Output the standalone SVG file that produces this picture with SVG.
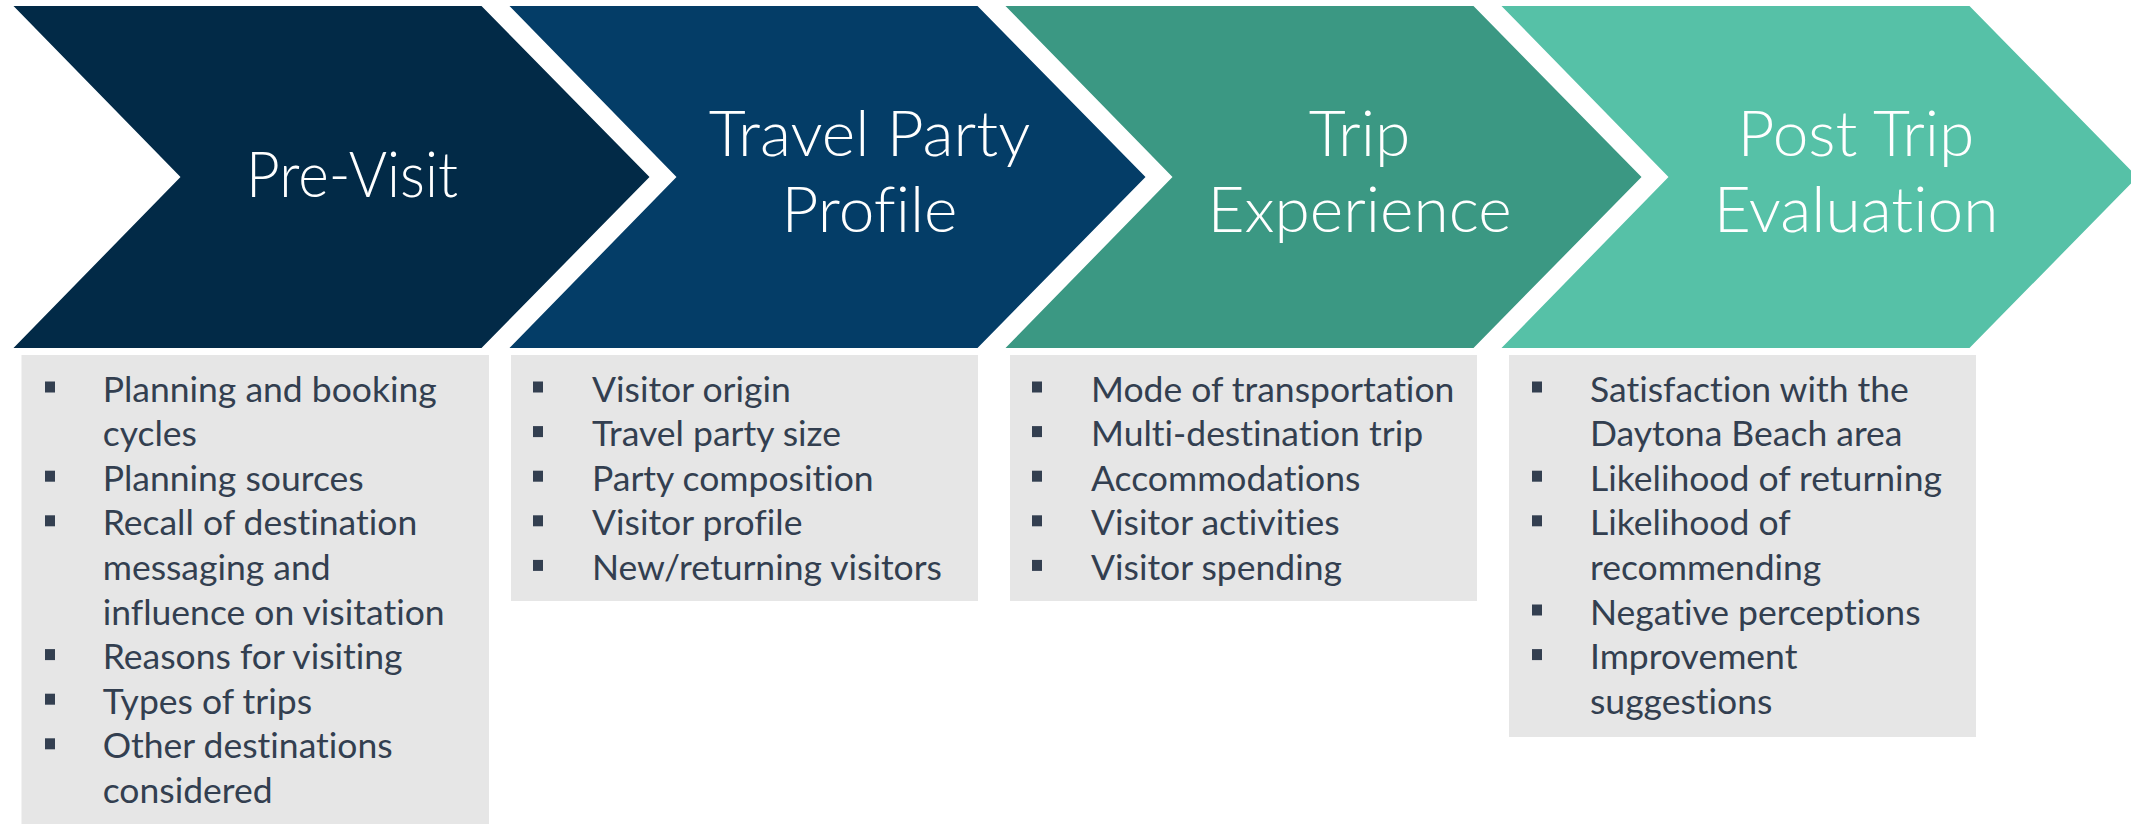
<svg xmlns="http://www.w3.org/2000/svg" width="2131" height="824" viewBox="0 0 2131 824">
<style>
.title{font-family:Lato,"Open Sans","Liberation Sans",sans-serif;font-weight:300;font-size:64px;fill:#ffffff;text-anchor:middle;font-variant-ligatures:none}
.item{font-family:Lato,"Open Sans","Liberation Sans",sans-serif;font-size:35.5px;fill:#333f50;font-variant-ligatures:none}
.box{fill:#e6e6e6}
.bul{fill:#333f50}
</style>
<defs>
<polygon id="chev" points="0,6 468,6 636,177 468,348 0,348 167,177"/>
<rect id="b" width="10" height="11"/>
</defs>
<rect width="2131" height="824" fill="#ffffff"/>

<g id="pre-visit">
<use href="#chev" x="13.5" fill="#022a47"/>
<text class="title" x="352" y="197" textLength="212" lengthAdjust="spacingAndGlyphs">Pre-Visit</text>
<rect class="box" x="21.5" y="355" width="467.5" height="469"/>
<g class="bul">
<use href="#b" x="45" y="381.5"/>
<use href="#b" x="45" y="470.7"/>
<use href="#b" x="45" y="515.3"/>
<use href="#b" x="45" y="649.1"/>
<use href="#b" x="45" y="693.7"/>
<use href="#b" x="45" y="738.3"/>
</g>
<text class="item" x="102.7" y="401.5">Planning and booking</text>
<text class="item" x="102.7" y="446.1">cycles</text>
<text class="item" x="102.7" y="490.7">Planning sources</text>
<text class="item" x="102.7" y="535.3">Recall of destination</text>
<text class="item" x="102.7" y="579.9">messaging and</text>
<text class="item" x="102.7" y="624.5">influence on visitation</text>
<text class="item" x="102.7" y="669.1">Reasons for visiting</text>
<text class="item" x="102.7" y="713.7">Types of trips</text>
<text class="item" x="102.7" y="758.3">Other destinations</text>
<text class="item" x="102.7" y="802.9">considered</text>
</g>

<g id="travel-party-profile">
<use href="#chev" x="509.5" fill="#043d67"/>
<text class="title" x="869.5" y="156">Travel Party</text>
<text class="title" x="869.5" y="232">Profile</text>
<rect class="box" x="511" y="355" width="467" height="246"/>
<g class="bul">
<use href="#b" x="533" y="381.5"/>
<use href="#b" x="533" y="426.1"/>
<use href="#b" x="533" y="470.7"/>
<use href="#b" x="533" y="515.3"/>
<use href="#b" x="533" y="559.9"/>
</g>
<text class="item" x="592" y="401.5">Visitor origin</text>
<text class="item" x="592" y="446.1">Travel party size</text>
<text class="item" x="592" y="490.7">Party composition</text>
<text class="item" x="592" y="535.3">Visitor profile</text>
<text class="item" x="592" y="579.9">New/returning visitors</text>
</g>

<g id="trip-experience">
<use href="#chev" x="1005.5" fill="#3b9883"/>
<text class="title" x="1359.5" y="156">Trip</text>
<text class="title" x="1359.5" y="232">Experience</text>
<rect class="box" x="1010" y="355" width="467" height="246"/>
<g class="bul">
<use href="#b" x="1032" y="381.5"/>
<use href="#b" x="1032" y="426.1"/>
<use href="#b" x="1032" y="470.7"/>
<use href="#b" x="1032" y="515.3"/>
<use href="#b" x="1032" y="559.9"/>
</g>
<text class="item" x="1091" y="401.5">Mode of transportation</text>
<text class="item" x="1091" y="446.1">Multi-destination trip</text>
<text class="item" x="1091" y="490.7">Accommodations</text>
<text class="item" x="1091" y="535.3">Visitor activities</text>
<text class="item" x="1091" y="579.9">Visitor spending</text>
</g>

<g id="post-trip-evaluation">
<use href="#chev" x="1501.5" fill="#56c1a7"/>
<text class="title" x="1856" y="156">Post Trip</text>
<text class="title" x="1856" y="232">Evaluation</text>
<rect class="box" x="1509" y="355" width="467" height="382"/>
<g class="bul">
<use href="#b" x="1532" y="381.5"/>
<use href="#b" x="1532" y="470.7"/>
<use href="#b" x="1532" y="515.3"/>
<use href="#b" x="1532" y="604.5"/>
<use href="#b" x="1532" y="649.1"/>
</g>
<text class="item" x="1590" y="401.5">Satisfaction with the</text>
<text class="item" x="1590" y="446.1">Daytona Beach area</text>
<text class="item" x="1590" y="490.7">Likelihood of returning</text>
<text class="item" x="1590" y="535.3">Likelihood of</text>
<text class="item" x="1590" y="579.9">recommending</text>
<text class="item" x="1590" y="624.5">Negative perceptions</text>
<text class="item" x="1590" y="669.1">Improvement</text>
<text class="item" x="1590" y="713.7">suggestions</text>
</g>
</svg>
